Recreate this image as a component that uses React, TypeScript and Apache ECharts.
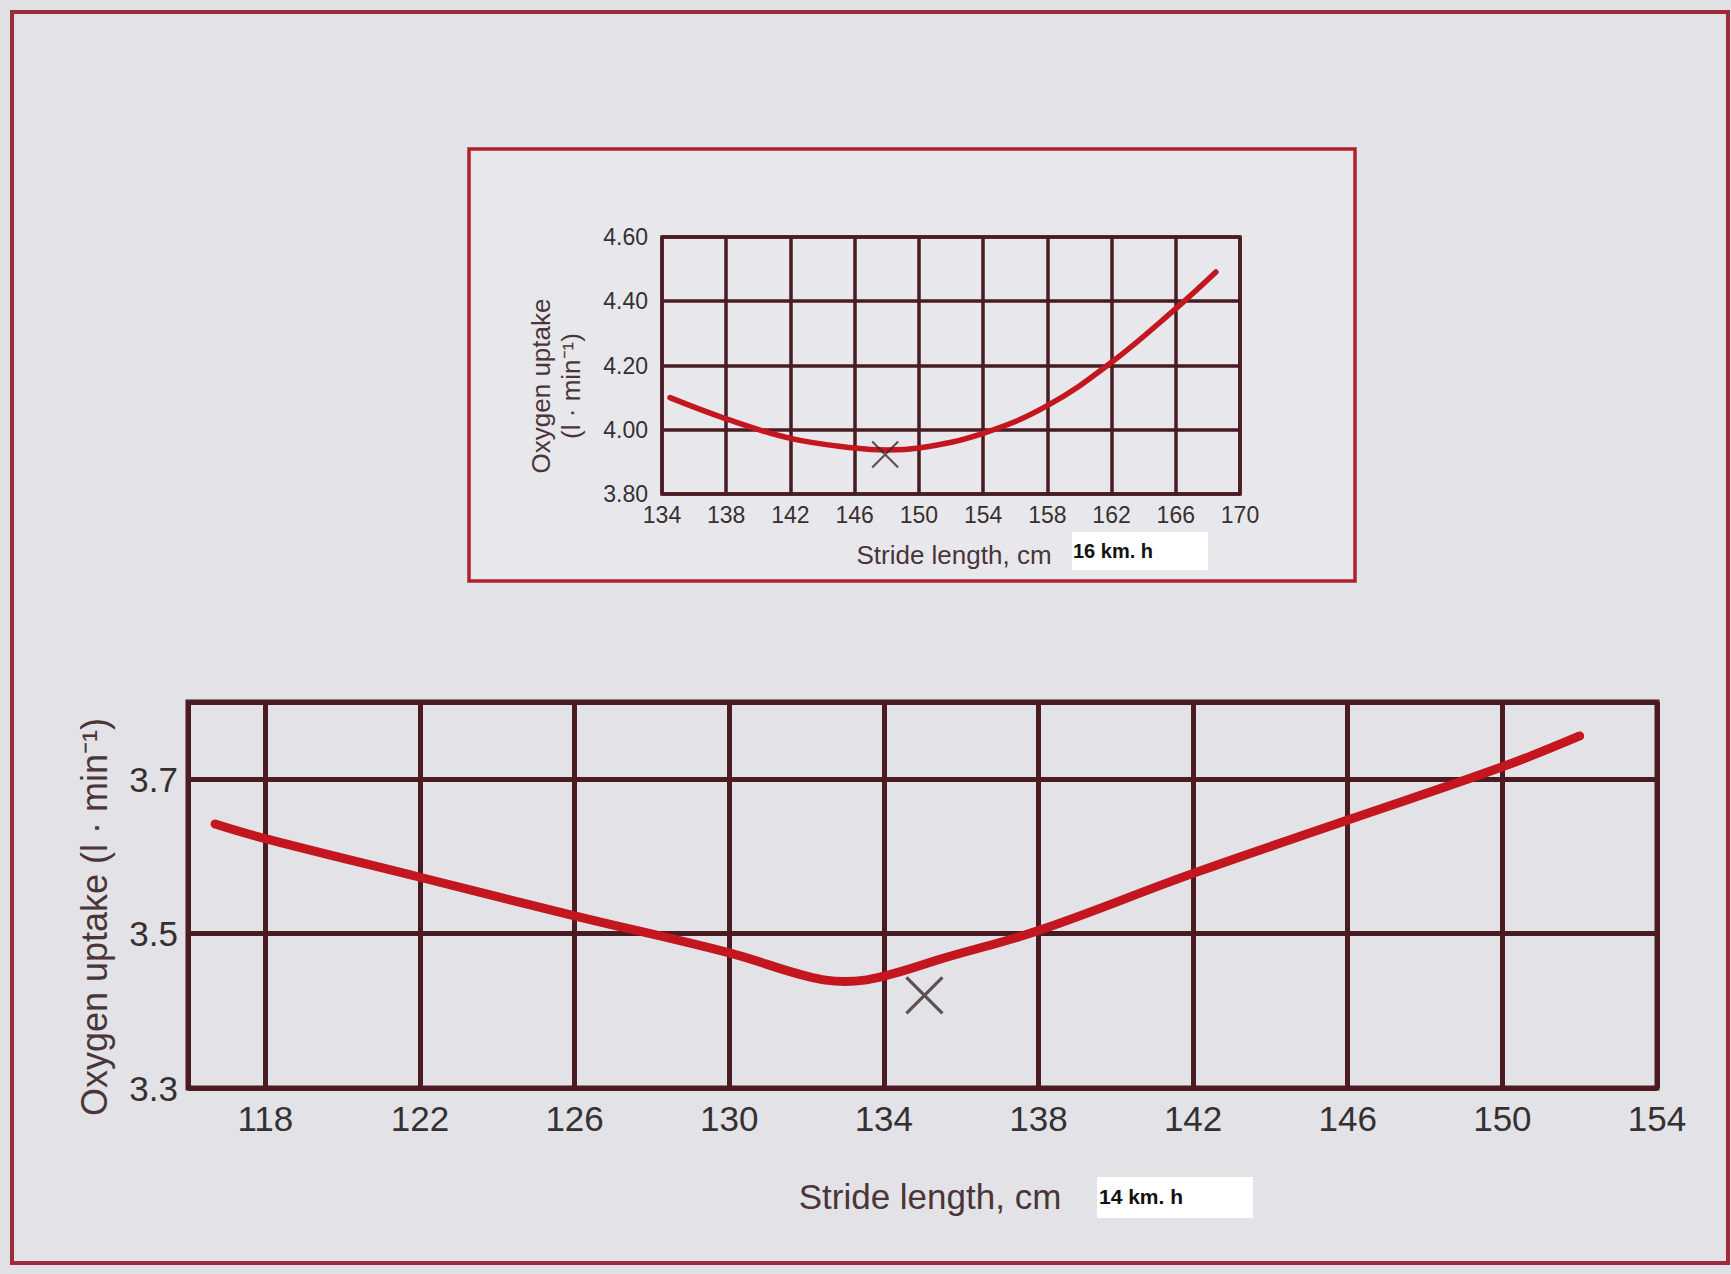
import React, { useEffect, useRef } from "react";
import * as echarts from "echarts";

// ---- Data ----
const topStride = [134.5, 138, 142, 146, 148, 150, 154, 158, 162, 166, 168.5];
const topUptake = [4.1, 4.034, 3.973, 3.943, 3.937, 3.943, 3.989, 4.075, 4.21, 4.377, 4.491];
const topMarker = [147.9, 3.923];

const bottomStride = [116.7, 118, 122, 126, 130, 132, 133, 134, 135.6, 138, 142, 146, 150, 152];
const bottomUptake = [3.642, 3.623, 3.573, 3.523, 3.475, 3.445, 3.438, 3.445, 3.469, 3.504, 3.578, 3.647, 3.716, 3.756];
const bottomMarker = [135.05, 3.42];

const topXTicks = [134, 138, 142, 146, 150, 154, 158, 162, 166, 170];
const topYTicks = ["3.80", "4.00", "4.20", "4.40", "4.60"];
const bottomXTicks = [118, 122, 126, 130, 134, 138, 142, 146, 150, 154];
const bottomYTicks = ["3.3", "3.5", "3.7"];

const yTitle = "Oxygen uptake";
const yUnit = "(l · min⁻¹)";
const xTitle = "Stride length, cm";
const topSpeed = "16 km. h";
const bottomSpeed = "14 km. h";

const FONT = "'Liberation Sans', Arial, Helvetica, sans-serif";
const GRID_COLOR = "#4a1b21";
const CURVE_COLOR = "#c3161e";
const LABEL_COLOR = "#353031";
const TITLE_COLOR = "#4a3539";

export default function App() {
  const ref = useRef<HTMLDivElement>(null);

  useEffect(() => {
    if (!ref.current) return;
    const chart = echarts.init(ref.current, null, { renderer: "svg" });

    const topData = topStride.map((x, i) => [x, topUptake[i]]);
    const bottomData = bottomStride.map((x, i) => [x, bottomUptake[i]]);

    const hiddenAxis = {
      axisLine: { show: false },
      axisTick: { show: false },
      axisLabel: { show: false },
    };

    const option: any = {
      animation: false,
      backgroundColor: "#e1e1e5",
      graphic: [
        {
          type: "rect",
          z: -10,
          shape: { x: 12, y: 12, width: 1716, height: 1251 },
          style: { fill: "#e3e3e7", stroke: "#9e2b3c", lineWidth: 4 },
        },
        {
          type: "rect",
          z: -9,
          shape: { x: 469, y: 149, width: 886, height: 432 },
          style: { fill: "#e8e8ec", stroke: "#b21f2f", lineWidth: 3.5 },
        },
        {
          type: "text",
          z: 10,
          x: 556,
          y: 386,
          rotation: Math.PI / 2,
          style: {
            text: yTitle + "\n" + yUnit,
            font: `26px ${FONT}`,
            fill: TITLE_COLOR,
            align: "center",
            verticalAlign: "middle",
            lineHeight: 30,
          },
        },
        {
          type: "text",
          z: 10,
          x: 954,
          y: 555,
          style: {
            text: xTitle,
            font: `26px ${FONT}`,
            fill: TITLE_COLOR,
            align: "center",
            verticalAlign: "middle",
          },
        },
        {
          type: "rect",
          z: 9,
          shape: { x: 1072, y: 532, width: 136, height: 38 },
          style: { fill: "#ffffff" },
        },
        {
          type: "text",
          z: 10,
          x: 1073,
          y: 551,
          style: {
            text: topSpeed,
            font: `bold 20px ${FONT}`,
            fill: "#111111",
            align: "left",
            verticalAlign: "middle",
          },
        },
        {
          type: "text",
          z: 10,
          x: 94,
          y: 917,
          rotation: Math.PI / 2,
          style: {
            text: yTitle + " " + yUnit,
            font: `36px ${FONT}`,
            fill: TITLE_COLOR,
            align: "center",
            verticalAlign: "middle",
          },
        },
        {
          type: "text",
          z: 10,
          x: 930,
          y: 1196,
          style: {
            text: xTitle,
            font: `35px ${FONT}`,
            fill: TITLE_COLOR,
            align: "center",
            verticalAlign: "middle",
          },
        },
        {
          type: "rect",
          z: 9,
          shape: { x: 1097, y: 1177, width: 156, height: 41 },
          style: { fill: "#ffffff" },
        },
        {
          type: "text",
          z: 10,
          x: 1099,
          y: 1196,
          style: {
            text: bottomSpeed,
            font: `bold 21px ${FONT}`,
            fill: "#111111",
            align: "left",
            verticalAlign: "middle",
          },
        },
      ],
      grid: [
        {
          left: 662,
          top: 237,
          width: 578,
          height: 257,
          show: true,
          borderColor: GRID_COLOR,
          borderWidth: 3.5,
          backgroundColor: "transparent",
        },
        {
          left: 188,
          top: 702,
          width: 1469,
          height: 386,
          show: true,
          borderColor: GRID_COLOR,
          borderWidth: 5,
          backgroundColor: "transparent",
        },
      ],
      xAxis: [
        {
          gridIndex: 0,
          type: "value",
          min: 134,
          max: 170,
          interval: 2,
          axisLine: { show: false },
          axisTick: { show: false },
          splitLine: { show: false },
          axisLabel: {
            margin: 9,
            color: LABEL_COLOR,
            fontSize: 23,
            fontFamily: FONT,
            formatter: (v: number) => (topXTicks.includes(Math.round(v)) ? String(Math.round(v)) : ""),
          },
        },
        {
          gridIndex: 0,
          type: "value",
          min: 0,
          max: 36,
          interval: 4,
          ...hiddenAxis,
          splitLine: { show: true, lineStyle: { color: GRID_COLOR, width: 3.5 } },
        },
        {
          gridIndex: 1,
          type: "value",
          min: 116,
          max: 154,
          interval: 2,
          axisLine: { show: false },
          axisTick: { show: false },
          splitLine: { show: false },
          axisLabel: {
            margin: 13,
            color: LABEL_COLOR,
            fontSize: 35,
            fontFamily: FONT,
            formatter: (v: number) => (bottomXTicks.includes(Math.round(v)) ? String(Math.round(v)) : ""),
          },
        },
        {
          gridIndex: 1,
          type: "value",
          min: 0,
          max: 38,
          interval: 4,
          inverse: true,
          ...hiddenAxis,
          splitLine: { show: true, lineStyle: { color: GRID_COLOR, width: 5 } },
        },
      ],
      yAxis: [
        {
          gridIndex: 0,
          type: "value",
          min: 3.8,
          max: 4.6,
          interval: 0.2,
          axisLine: { show: false },
          axisTick: { show: false },
          splitLine: { show: true, lineStyle: { color: GRID_COLOR, width: 3.5 } },
          axisLabel: {
            margin: 14,
            color: LABEL_COLOR,
            fontSize: 23,
            fontFamily: FONT,
            formatter: (v: number) => {
              const s = v.toFixed(2);
              return topYTicks.includes(s) ? s : "";
            },
          },
        },
        {
          gridIndex: 1,
          type: "value",
          min: 3.3,
          max: 3.8,
          interval: 0.1,
          axisLine: { show: false },
          axisTick: { show: false },
          splitLine: { show: false },
          axisLabel: {
            margin: 10,
            color: LABEL_COLOR,
            fontSize: 35,
            fontFamily: FONT,
            formatter: (v: number) => {
              const s = v.toFixed(1);
              return bottomYTicks.includes(s) ? s : "";
            },
          },
        },
        {
          gridIndex: 1,
          type: "value",
          min: 0,
          max: 0.5,
          interval: 0.2,
          ...hiddenAxis,
          splitLine: { show: true, lineStyle: { color: GRID_COLOR, width: 5 } },
        },
      ],
      series: [
        {
          type: "line",
          xAxisIndex: 0,
          yAxisIndex: 0,
          data: topData,
          smooth: 0.4,
          showSymbol: false,
          z: 5,
          lineStyle: { color: CURVE_COLOR, width: 5.5, cap: "round" },
        },
        {
          type: "scatter",
          xAxisIndex: 0,
          yAxisIndex: 0,
          data: [topMarker],
          symbol: "path://M0,0L26,26M26,0L0,26",
          symbolSize: 26,
          z: 6,
          itemStyle: { color: "rgba(0,0,0,0)", borderColor: "#3a2b2c", borderWidth: 2.2 },
        },
        {
          type: "line",
          xAxisIndex: 2,
          yAxisIndex: 1,
          data: bottomData,
          smooth: 0.4,
          showSymbol: false,
          z: 5,
          lineStyle: { color: CURVE_COLOR, width: 9, cap: "round" },
        },
        {
          type: "scatter",
          xAxisIndex: 2,
          yAxisIndex: 1,
          data: [bottomMarker],
          symbol: "path://M0,0L36,36M36,0L0,36",
          symbolSize: 36,
          z: 6,
          itemStyle: { color: "rgba(0,0,0,0)", borderColor: "#3a2b2c", borderWidth: 3.2 },
        },
      ],
    };

    chart.setOption(option);
    return () => chart.dispose();
  }, []);

  return (
    <div
      ref={ref}
      style={{ position: "absolute", left: 0, top: 0, width: 1731, height: 1274 }}
    />
  );
}
